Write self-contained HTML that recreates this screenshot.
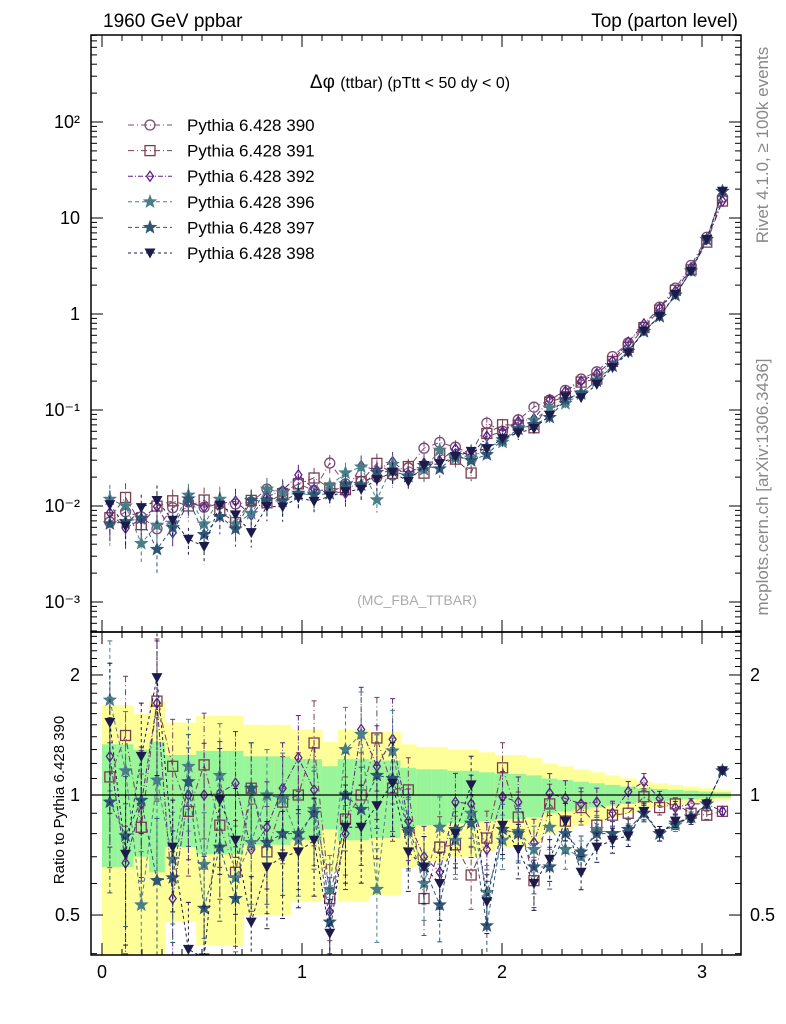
<!DOCTYPE html>
<html><head><meta charset="utf-8"><style>
body{margin:0;background:#fff;}
svg{display:block;font-family:"Liberation Sans",sans-serif;}
</style></head><body>
<svg id="chart" width="786" height="1024" viewBox="0 0 786 1024">
<defs>
<clipPath id="cm"><rect x="91" y="35" width="650" height="597"/></clipPath>
<clipPath id="cr"><rect x="91" y="632" width="650" height="323"/></clipPath>
</defs>
<g id="bands" clip-path="url(#cr)"></g>
<g id="marks"></g>
<g id="axes"></g>
<text x="103" y="27" font-size="19">1960 GeV ppbar</text>
<text x="738" y="27" font-size="19" text-anchor="end">Top (parton level)</text>
<text x="410" y="88" font-size="19" text-anchor="middle">Δφ <tspan font-size="16">(ttbar) (pTtt &lt; 50 dy &lt; 0)</tspan></text>
<text x="417" y="605" font-size="14" fill="#aaa" text-anchor="middle">(MC_FBA_TTBAR)</text>
<text transform="translate(768,145) rotate(-90)" font-size="17" fill="#888" text-anchor="middle">Rivet 4.1.0, ≥ 100k events</text>
<text transform="translate(768,487) rotate(-90)" font-size="17" fill="#888" text-anchor="middle">mcplots.cern.ch [arXiv:1306.3436]</text>
<text transform="translate(64,800) rotate(-90)" font-size="15" text-anchor="middle">Ratio to Pythia 6.428 390</text>
<g id="legend"></g>
</svg>
<script>
const nBins = 40;
const xMax = Math.PI;
const base390 = [0.0068,0.0087,0.0077,0.0058,0.0096,0.011,0.0097,0.0105,0.0105,0.011,0.015,0.014,0.017,0.0145,0.028,0.017,0.018,0.02,0.021,0.025,0.040,0.046,0.041,0.035,0.073,0.060,0.079,0.107,0.127,0.16,0.21,0.25,0.36,0.50,0.73,1.18,1.86,3.2,6.3,16.5];
const ratio391 = [1.11,1.41,0.83,1.72,1.18,0.91,1.19,0.84,0.64,1.04,0.72,0.96,1.0,1.35,0.55,0.87,1.0,1.39,1.04,1.03,0.55,0.74,0.75,0.63,0.78,1.17,0.88,0.61,0.95,0.86,0.93,0.84,0.89,0.90,0.99,0.93,0.95,0.90,0.89,0.91];
const ratio392 = [1.25,0.675,0.95,1.7,0.55,1.0,1.0,1.01,1.07,0.73,0.83,1.04,1.24,1.03,0.51,0.8,1.46,1.18,1.38,0.86,0.7,0.64,0.96,0.95,0.73,0.99,0.96,0.76,1.01,0.98,0.95,0.96,0.90,1.02,1.08,0.98,0.93,0.95,0.95,0.91];
const ratio396 = [1.73,1.15,0.53,1.09,0.69,1.18,0.67,1.12,0.62,0.76,1.0,0.98,0.77,0.92,0.58,1.30,1.42,0.58,1.29,0.81,0.60,0.83,0.77,0.9,0.57,0.77,0.81,0.73,0.83,0.73,0.70,0.82,0.80,0.82,0.90,0.80,0.84,0.88,0.95,1.15];
const ratio397 = [0.96,0.79,0.97,0.61,0.62,1.08,0.52,0.74,0.55,1.04,0.76,0.8,0.8,0.9,0.48,1.0,0.92,1.12,1.1,0.82,0.66,0.53,0.82,0.85,0.47,0.82,0.8,0.66,0.66,0.8,0.72,0.8,0.8,0.82,0.9,0.8,0.85,0.88,0.95,1.15];
const ratio398 = [1.52,0.71,1.25,1.97,0.74,0.41,0.39,0.97,0.77,0.48,0.66,0.70,0.72,0.77,0.45,0.83,0.83,0.94,1.07,0.72,0.66,0.60,0.80,1.06,0.54,0.84,0.73,0.60,0.69,0.86,0.64,0.74,0.77,0.79,0.91,0.80,0.86,0.87,0.95,1.15];
const relErr = [0.34,0.34,0.30,0.36,0.26,0.26,0.29,0.29,0.29,0.25,0.25,0.25,0.23,0.23,0.18,0.23,0.23,0.22,0.22,0.17,0.16,0.16,0.15,0.15,0.14,0.13,0.13,0.12,0.10,0.09,0.08,0.07,0.06,0.05,0.04,0.035,0.03,0.025,0.02,0.015];
const seriesNames = ["Pythia 6.428 390","Pythia 6.428 391","Pythia 6.428 392","Pythia 6.428 396","Pythia 6.428 397","Pythia 6.428 398"];
const yTickExp = [2,1,0,-1,-2,-3];
const yTickText = ["10²","10","1","10⁻¹","10⁻²","10⁻³"];
const rTicks = [2,1,0.5];
const xTicks = [0,1,2,3];

const NS="http://www.w3.org/2000/svg";
const L=91,R=741,T=35,MB=632,RB=955;
const xS=v=>102+v*200;
const yM=v=>506-(Math.log10(v)+2)*96;
const yR=v=>795-Math.log10(v)*398.7;
function mk(tag,attrs,parent){const e=document.createElementNS(NS,tag);for(const k in attrs)e.setAttribute(k,attrs[k]);parent.appendChild(e);return e;}
const bw=xMax/nBins;
const bands=document.getElementById('bands');
for(let i=0;i<nBins;i++){
  const x0=xS(i*bw),x1=xS((i+1)*bw);
  let y=mk('rect',{x:x0,y:yR(1+2*relErr[i]),width:x1-x0+0.5,height:yR(Math.max(0.05,1-2*relErr[i]))-yR(1+2*relErr[i]),fill:'#ffff99'},bands);
  
  
  let g=mk('rect',{x:x0,y:yR(1+relErr[i]),width:x1-x0+0.5,height:yR(1-relErr[i])-yR(1+relErr[i]),fill:'#99f599'},bands);
  
  
}
const ratios=[base390.map(()=>1),ratio391,ratio392,ratio396,ratio397,ratio398];
const colors=['#7c4a72','#7a3e4e','#5a2188','#4a7f8a','#2f5775','#1c1b4c'];
const dashes=['6,3,1,3','6,3,1,3','5,2,1,2','4,3','4,3','3,3'];
const shapes=['circle','square','diamond','star','star','tri'];
function marker(shape,cx,cy,c,parent){
  if(shape==='circle')return mk('circle',{cx,cy,r:5,fill:'none',stroke:c,'stroke-width':1.3},parent);
  if(shape==='square')return mk('rect',{x:cx-5,y:cy-5,width:10,height:10,fill:'none',stroke:c,'stroke-width':1.3},parent);
  if(shape==='diamond')return mk('polygon',{points:`${cx},${cy-5} ${cx+3.5},${cy} ${cx},${cy+5} ${cx-3.5},${cy}`,fill:'none',stroke:c,'stroke-width':1.3},parent);
  if(shape==='tri')return mk('polygon',{points:`${cx-5.5},${cy-4.5} ${cx+5.5},${cy-4.5} ${cx},${cy+5.5}`,fill:c},parent);
  let p=[];for(let k=0;k<10;k++){const a=-Math.PI/2+k*Math.PI/5,r=k%2?2.8:6.5;p.push((cx+r*Math.cos(a)).toFixed(1)+','+(cy+r*Math.sin(a)).toFixed(1));}
  return mk('polygon',{points:p.join(' '),fill:c,stroke:c,'stroke-width':0.8},parent);
}
const marks=document.getElementById('marks');
const gm=mk('g',{'clip-path':'url(#cm)'},marks);
const gr=mk('g',{'clip-path':'url(#cr)'},marks);
for(let s=0;s<6;s++){
  const c=colors[s];
  const ps=[],pr=[];
  const gs=mk('g',{},gm);
  
  
  const gs2=mk('g',{},gr);
  
  
  for(let i=0;i<nBins;i++){
    const xc=xS((i+0.5)*bw);
    const v=base390[i]*ratios[s][i];
    const e=relErr[i]*1.2;
    const ym=yM(v),y1=yM(v*(1+e)),y2=yM(v*Math.max(0.05,1-e));
    ps.push(xc+','+ym);
    mk('line',{x1:xc,y1:y1,x2:xc,y2:y2,stroke:c,'stroke-width':1,'stroke-dasharray':dashes[s]},gs);
    marker(shapes[s],xc,ym,c,gs);
    const rv=ratios[s][i];
    const yr=yR(rv),r1=yR(rv*(1+e)),r2=yR(rv*Math.max(0.05,1-e));
    pr.push(xc+','+yr);
    if(s>0){
      mk('line',{x1:xc,y1:r1,x2:xc,y2:r2,stroke:c,'stroke-width':1,'stroke-dasharray':dashes[s]},gs2);
      mk('line',{x1:xc-2.5,y1:r1,x2:xc+2.5,y2:r1,stroke:c,'stroke-width':1},gs2);
      mk('line',{x1:xc-2.5,y1:r2,x2:xc+2.5,y2:r2,stroke:c,'stroke-width':1},gs2);
    }
  }
  mk('polyline',{points:ps.join(' '),fill:'none',stroke:c,'stroke-width':1,'stroke-dasharray':dashes[s]},gs);
  if(s>0){
    mk('polyline',{points:pr.join(' '),fill:'none',stroke:c,'stroke-width':1,'stroke-dasharray':dashes[s]},gs2);
    for(let i=0;i<nBins;i++)marker(shapes[s],xS((i+0.5)*bw),yR(ratios[s][i]),c,gs2);
  }
}
const ax=document.getElementById('axes');
mk('line',{x1:L,y1:yR(1),x2:R,y2:yR(1),stroke:'#000','stroke-width':1.3},ax);
mk('rect',{x:L,y:T,width:R-L,height:MB-T,fill:'none',stroke:'#000','stroke-width':1.5},ax);
mk('rect',{x:L,y:MB,width:R-L,height:RB-MB,fill:'none',stroke:'#000','stroke-width':1.5},ax);
for(let k=0;k<=31;k++){
  const v=k/10,x=xS(v);if(x>R)break;const maj=k%10===0;const len=maj?12:6;
  for(const [yb,d] of [[MB,-1],[T,1],[RB,-1],[MB,1]])mk('line',{x1:x,y1:yb,x2:x,y2:yb+d*len,stroke:'#000','stroke-width':1},ax);
}
xTicks.forEach(v=>{const t=mk('text',{x:xS(v),y:978,'font-size':18,'text-anchor':'middle'},ax);t.textContent=v;

});
for(let ex=-4;ex<=2;ex++)for(let m=1;m<10;m++){
  const v=m*Math.pow(10,ex),y=yM(v);if(y<T||y>MB)continue;const len=m===1?12:6;
  mk('line',{x1:L,y1:y,x2:L+len,y2:y,stroke:'#000','stroke-width':1},ax);
  mk('line',{x1:R,y1:y,x2:R-len,y2:y,stroke:'#000','stroke-width':1},ax);
}
yTickExp.forEach((e,i)=>{const t=mk('text',{x:80,y:yM(Math.pow(10,e))+6,'font-size':18,'text-anchor':'end'},ax);t.textContent=yTickText[i];

});
for(let v=0.4;v<=2.6;v=+(v+0.1).toFixed(1)){
  const y=yR(v);if(y<MB||y>RB)continue;const maj=[0.5,1,2].includes(v);const len=maj?12:6;
  mk('line',{x1:L,y1:y,x2:L+len,y2:y,stroke:'#000','stroke-width':1},ax);
  mk('line',{x1:R,y1:y,x2:R-len,y2:y,stroke:'#000','stroke-width':1},ax);
}
rTicks.forEach(v=>{
  const t=mk('text',{x:80,y:yR(v)+6,'font-size':18,'text-anchor':'end'},ax);t.textContent=v;
  
  
  const t2=mk('text',{x:750,y:yR(v)+6,'font-size':18},ax);t2.textContent=v;
  
  
});
const lg=document.getElementById('legend');
seriesNames.forEach((n,s)=>{
  const y=125+s*25.6;
  const g=mk('g',{},lg);
  
  
  mk('line',{x1:128,y1:y,x2:172,y2:y,stroke:colors[s],'stroke-width':1,'stroke-dasharray':dashes[s]},g);
  marker(shapes[s],150,y,colors[s],g);
  const t=mk('text',{x:187,y:y+6,'font-size':17},g);t.textContent=n;
});
</script>
</body></html>
